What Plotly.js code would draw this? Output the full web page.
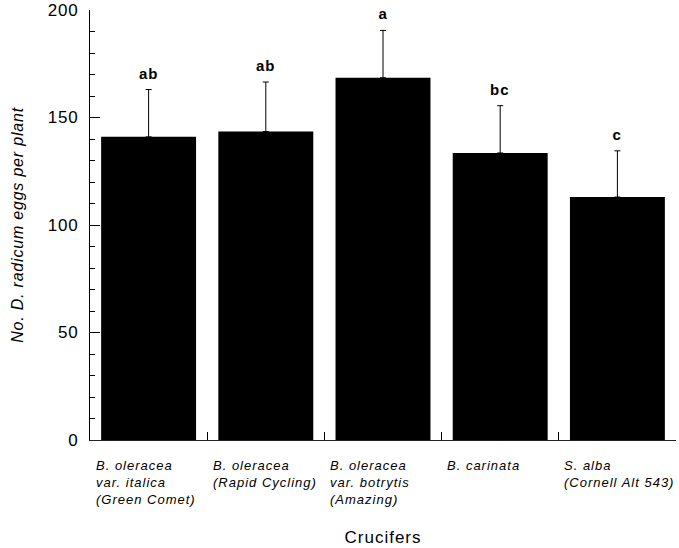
<!DOCTYPE html>
<html>
<head>
<meta charset="utf-8">
<script src="https://cdn.plot.ly/plotly-3.0.1.min.js"></script>
<style>
html,body{margin:0;padding:0;background:#fff;}
#chart{width:679px;height:548px;}
#chart text{letter-spacing:0.8px;}
#chart .annotation text{letter-spacing:1px;}
</style>
</head>
<body>
<div id="chart"></div>
<script>
var categories = ["italica", "rapid", "botrytis", "carinata", "alba"];
var categoryLabels = [
  "B. oleracea<br>var. italica<br>(Green Comet)",
  "B. oleracea<br>(Rapid Cycling)",
  "B. oleracea<br>var. botrytis<br>(Amazing)",
  "B. carinata",
  "S. alba<br>(Cornell Alt 543)"
];
var meanEggs = [141, 143.5, 168.5, 133.5, 113];
var errorPlus = [22, 23, 22, 22, 21.5];
var groupLetters = ["ab", "ab", "a", "bc", "c"];
var yTickVals = [0, 50, 100, 150, 200];
var xTitle = "Crucifers";
var yTitle = "No. D. radicum eggs per plant";

var trace = {
  type: "bar",
  x: categories,
  y: meanEggs,
  width: 0.81,
  marker: {color: "#000000", line: {width: 0}},
  error_y: {type: "data", array: errorPlus, arrayminus: errorPlus.map(function(){return 0;}), symmetric: false, color: "#000000", thickness: 1, width: 3},
  hoverinfo: "none"
};

var annotations = [];
categories.forEach(function(c, i) {
  annotations.push({
    x: i, y: meanEggs[i] + errorPlus[i], xref: "x", yref: "y",
    text: "<b>" + groupLetters[i] + "</b>", showarrow: false, yanchor: "bottom", xanchor: "center", yshift: 6,
    font: {family: "Liberation Sans, Arial, sans-serif", size: 15, color: "#000"}
  });
  annotations.push({
    x: i - 0.47, y: 0, xref: "x", yref: "y",
    text: "<i>" + categoryLabels[i] + "</i>", showarrow: false, yanchor: "top", xanchor: "left", align: "left", yshift: -16,
    font: {family: "Liberation Sans, Arial, sans-serif", size: 13, color: "#000"}
  });
});
annotations.push({
  x: 0.5, y: -0.2256, xref: "paper", yref: "paper", text: xTitle, showarrow: false,
  xanchor: "center", yanchor: "middle",
  font: {family: "Liberation Sans, Arial, sans-serif", size: 17, color: "#000"}
});

var layout = {
  width: 679, height: 548,
  margin: {l: 90, r: 3, t: 10, b: 108},
  paper_bgcolor: "#fff", plot_bgcolor: "#fff",
  showlegend: false,
  font: {family: "Liberation Sans, Arial, sans-serif", color: "#000"},
  xaxis: {
    type: "category", range: [-0.5, 4.5], showline: true, linecolor: "#222", linewidth: 1,
    ticks: "inside", tickson: "boundaries", ticklen: 8, tickcolor: "#000", tickwidth: 1,
    showticklabels: false, showgrid: false, zeroline: false
  },
  yaxis: {
    range: [0, 200], showline: true, linecolor: "#000", linewidth: 1,
    tickmode: "array", tickvals: yTickVals, ticktext: yTickVals.map(String),
    ticks: "inside", ticklen: 10, tickcolor: "#000", tickwidth: 1,
    minor: {dtick: 10, ticks: "inside", ticklen: 5, tickcolor: "#000", tickwidth: 1, showgrid: false},
    tickfont: {size: 17}, ticklabelstandoff: 7,
    showgrid: false, zeroline: false,
    title: {text: "<i>" + yTitle + "</i>", font: {size: 16}, standoff: 22}
  },
  annotations: annotations
};

Plotly.newPlot("chart", [trace], layout, {staticPlot: true, displayModeBar: false});
</script>
</body>
</html>
